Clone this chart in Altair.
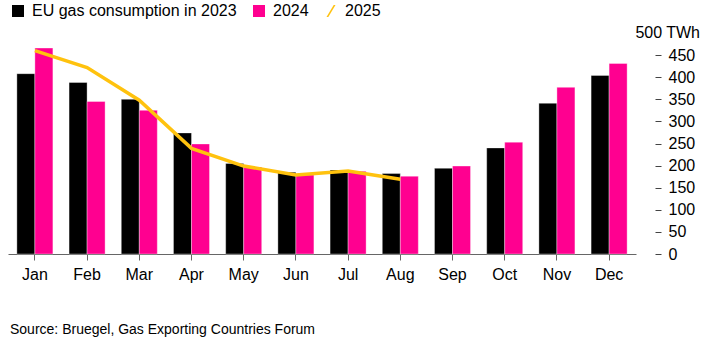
import altair as alt
import pandas as pd

months = ["Jan", "Feb", "Mar", "Apr", "May", "Jun", "Jul", "Aug", "Sep", "Oct", "Nov", "Dec"]
series_names = ["EU gas consumption in 2023", "2024", "2025"]
v2023 = [408, 388, 350, 274, 205, 185, 190, 182, 194, 240, 341, 404]
v2024 = [466, 345, 325, 249, 197, 179, 187, 176, 199, 253, 377, 431]
v2025 = [460, 422, 348, 239, 199, 179, 188, 169]
y_ticks = [0, 50, 100, 150, 200, 250, 300, 350, 400, 450]
top_label = "500 TWh"
top_value = 500
source = "Source: Bruegel, Gas Exporting Countries Forum"

colors = ["#000000", "#FF0090", "#FFC20E"]
slash = "M-0.75,1 L0.45,-1 L0.75,-1 L-0.45,1 Z"

rows = []
for name, vals in zip(series_names, [v2023, v2024, v2025]):
    for m, v in zip(months, vals):
        rows.append({"month": m, "series": name, "value": v})
df = pd.DataFrame(rows)

FONT = "Liberation Sans"

x_axis = alt.Axis(
    domainColor="#666666",
    domainWidth=1,
    tickColor="#666666",
    tickSize=6,
    labelFontSize=16,
    labelColor="#000000",
    labelPadding=6,
    labelAngle=0,
    labelFont=FONT,
)
x_scale = alt.Scale(paddingInner=0.31, paddingOuter=0.17)
y_axis = alt.Axis(
    orient="right",
    values=y_ticks,
    domain=False,
    grid=False,
    offset=19,
    tickSize=6,
    tickColor="#444444",
    labelPadding=7,
    labelFontSize=16,
    labelColor="#000000",
    labelFont=FONT,
    labelOverlap=False,
)
y_scale = alt.Scale(domain=[0, 500], nice=False)


def xe():
    return alt.X("month:N", sort=months, title=None, scale=x_scale, axis=x_axis)


def ye():
    return alt.Y("value:Q", title=None, scale=y_scale, axis=y_axis)


bars = (
    alt.Chart(df)
    .transform_filter(alt.datum.series != "2025")
    .mark_bar(stroke="white", strokeWidth=1, strokeOpacity=0.35)
    .encode(
        x=xe(),
        xOffset=alt.XOffset(
            "series:N",
            sort=series_names[:2],
            scale=alt.Scale(paddingInner=0, paddingOuter=0),
        ),
        y=ye(),
        fill=alt.Fill(
            "series:N",
            scale=alt.Scale(domain=series_names[:2], range=colors[:2]),
            legend=None,
        ),
    )
)

line = (
    alt.Chart(df)
    .transform_filter(alt.datum.series == "2025")
    .mark_line(strokeWidth=3.5)
    .encode(
        x=xe(),
        y=ye(),
        stroke=alt.Stroke(
            "series:N",
            scale=alt.Scale(domain=series_names[2:], range=colors[2:]),
            legend=None,
        ),
    )
)

legend_pts = (
    alt.Chart(df)
    .transform_filter("false")
    .mark_point(filled=True, opacity=1, size=144)
    .encode(
        x=xe(),
        y=ye(),
        color=alt.Color(
            "series:N",
            scale=alt.Scale(domain=series_names, range=colors),
            title=None,
        ),
        shape=alt.Shape(
            "series:N",
            scale=alt.Scale(domain=series_names, range=["square", "square", slash]),
            title=None,
        ),
    )
)

unit = (
    alt.Chart(pd.DataFrame({"label": [top_label], "v": [top_value]}))
    .mark_text(align="right", baseline="middle", fontSize=16, font=FONT, color="#000000")
    .encode(
        x=alt.value(692),
        y=alt.Y("v:Q", title=None, scale=y_scale, axis=y_axis),
        text="label:N",
    )
)

chart = (
    alt.layer(bars, line, legend_pts, unit)
    .properties(
        width=628,
        height=221,
        autosize=alt.AutoSizeParams(type="none"),
        padding={"left": 8, "top": 33, "right": 71, "bottom": 98},
        title=alt.TitleParams(
            source,
            orient="bottom",
            anchor="start",
            fontSize=14,
            fontWeight="normal",
            font=FONT,
            color="#000000",
            offset=41,
            dx=2,
        ),
    )
    .configure(font=FONT, background="white")
    .configure_view(stroke=None)
    .configure_axis(labelOverlap=False)
    .configure_legend(
        orient="none",
        legendX=2,
        legendY=-30,
        direction="horizontal",
        labelFontSize=16,
        labelFont=FONT,
        labelColor="#000000",
        labelLimit=500,
        symbolSize=144,
        symbolStrokeWidth=0,
        symbolOpacity=1,
        columnPadding=14,
        labelOffset=6,
    )
)

chart.save("out.html", embed_options={"renderer": "svg", "actions": False})
